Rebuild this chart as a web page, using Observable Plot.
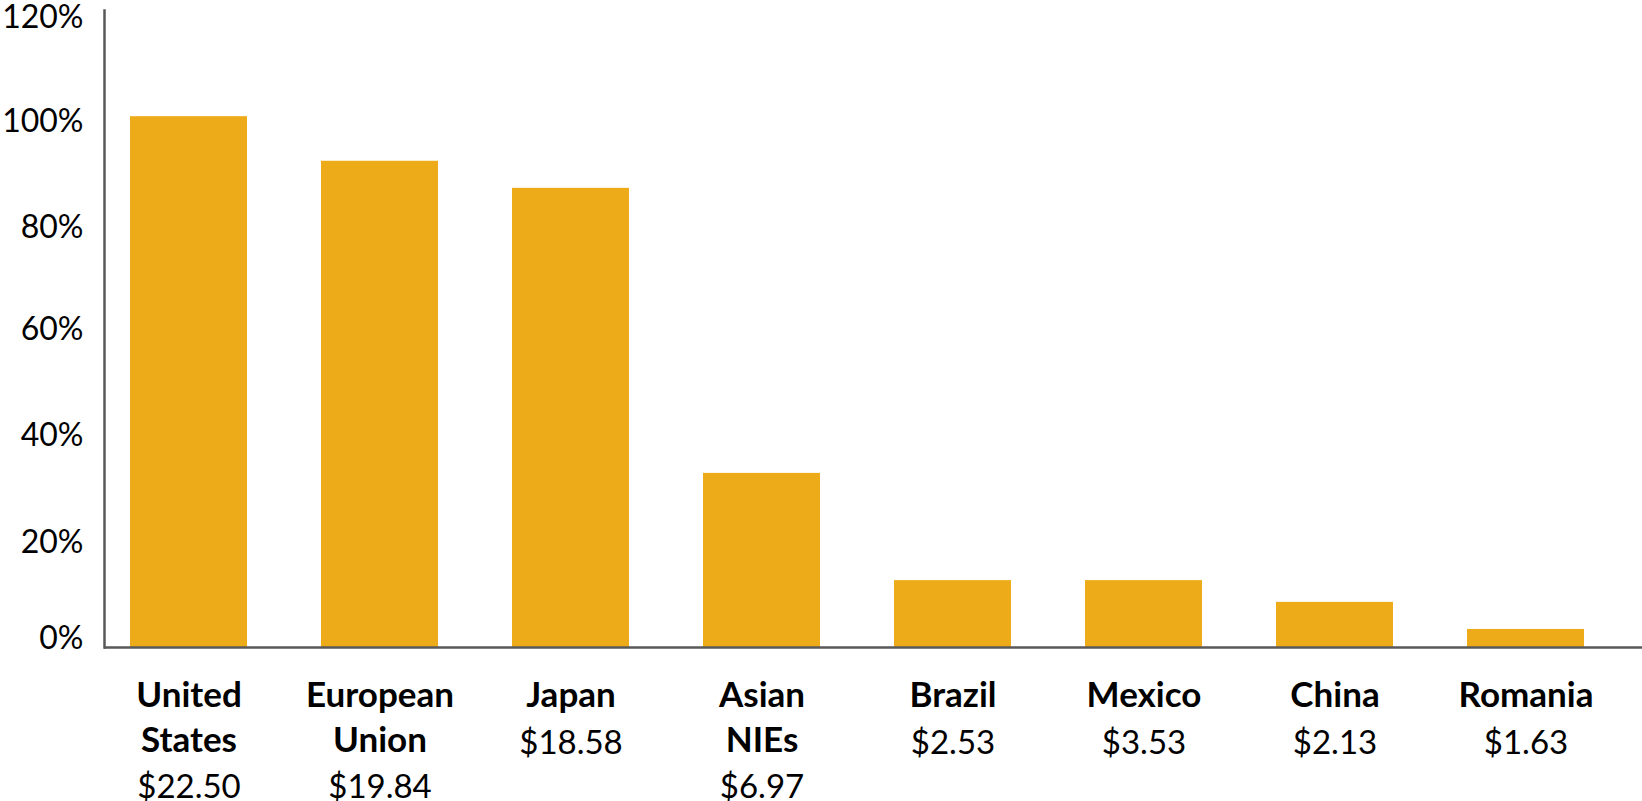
<!DOCTYPE html>
<html>
<head>
<meta charset="utf-8">
<script src="https://cdn.jsdelivr.net/npm/d3@7"></script>
<script src="https://cdn.jsdelivr.net/npm/@observablehq/plot@0.6"></script>
<style>
  html, body { margin: 0; padding: 0; background: #fff; }
  #chart svg { display: block; }
</style>
</head>
<body>
<div id="chart"></div>
<script>
const categories = ["United States", "European Union", "Japan", "Asian NIEs", "Brazil", "Mexico", "China", "Romania"];
const categoryLines = ["United\nStates", "European\nUnion", "Japan", "Asian\nNIEs", "Brazil", "Mexico", "China", "Romania"];
const values = [100, 91.6, 86.5, 32.8, 12.6, 12.6, 8.5, 3.4];
const wages = ["$22.50", "$19.84", "$18.58", "$6.97", "$2.53", "$3.53", "$2.13", "$1.63"];
const yTicks = [0, 20, 40, 60, 80, 100, 120];

const data = categories.map((c, i) => ({category: c, value: values[i]}));
const idx = (d) => categories.indexOf(d);
const pct = (d) => d + "%";
const font = "Lato, 'Open Sans', sans-serif";
const axisColor = "#595959";
const fsY = 32;
const fsName = 35;
const fsWage = 33;
const linePx = 44.8;

const wageLabel = (d) => {
  const i = idx(d);
  const n = categoryLines[i].split("\n").length;
  return "\u00a0\n".repeat(n) + wages[i];
};

const yAxis = (ticks, dy) => Plot.axisY({
  ticks, tickFormat: pct, tickSize: 0, tickPadding: 21,
  fontSize: fsY, fontFamily: font, dy, label: null
});

const chart = Plot.plot({
  width: 1642,
  height: 801,
  marginLeft: 104,
  marginRight: 0,
  marginTop: 10,
  marginBottom: 154,
  style: {fontFamily: font, background: "#fff", color: "#000"},
  x: {type: "band", domain: categories, range: [92.4, 1622], paddingInner: 0.39, paddingOuter: 0.195, label: null},
  y: {domain: [0, 120], label: null},
  marks: [
    Plot.barY(data, {x: "category", y: "value", fill: "#EEAB19"}),
    Plot.frame({anchor: "left", stroke: axisColor, strokeWidth: 2.5}),
    Plot.ruleY([0], {stroke: axisColor, strokeWidth: 2.5}),
    yAxis(yTicks.filter((t) => t >= 80 && t <= 100), 5),
    yAxis(yTicks.filter((t) => t >= 20 && t <= 60), 1),
    yAxis(yTicks.filter((t) => t === 0), -9),
    yAxis(yTicks.filter((t) => t === 120), 7),
    Plot.axisX({tickFormat: (d) => categoryLines[idx(d)], tickSize: 0, tickPadding: 28, fontSize: fsName, fontFamily: font, fontWeight: "bold", lineHeight: linePx / fsName, label: null}),
    Plot.axisX({tickFormat: wageLabel, tickSize: 0, tickPadding: 28 + 0.71 * (fsName - fsWage), fontSize: fsWage, fontFamily: font, lineHeight: linePx / fsWage, label: null})
  ]
});
document.getElementById("chart").appendChild(chart);
</script>
</body>
</html>
